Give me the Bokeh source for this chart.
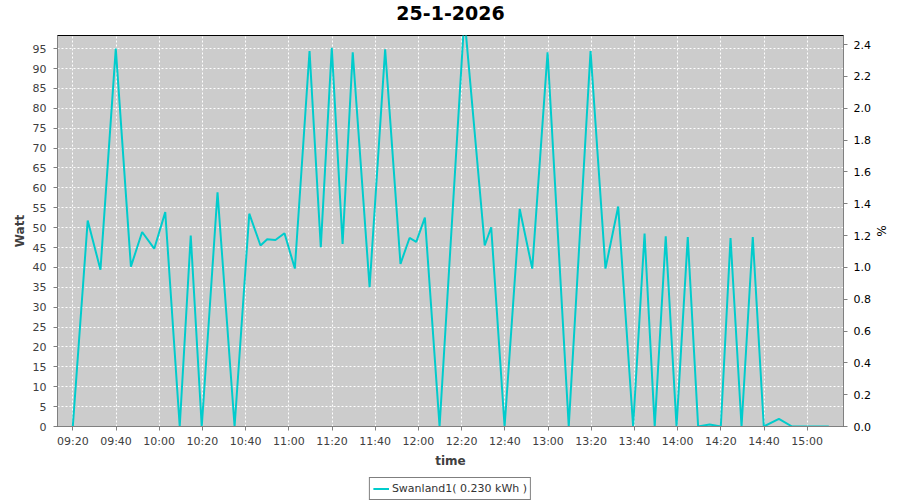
import pandas as pd
from bokeh.plotting import figure
from bokeh.layouts import column
from bokeh.models import (Range1d, LinearAxis, FixedTicker, DatetimeTickFormatter, Label,
                          Legend, LegendItem, ColumnDataSource, PrintfTickFormatter)
from bokeh.embed import file_html
from bokeh.resources import INLINE

DAY = "2026-01-25 "
TITLE = "25-1-2026"
SERIES_NAME = "Swanland1( 0.230 kWh )"
LINE_COLOR = "#00CCCC"

times = ["09:20:00", "09:26:54", "09:32:48", "09:39:54", "09:46:54", "09:52:06", "09:57:42",
         "10:02:48", "10:09:30", "10:14:36", "10:19:42", "10:27:00", "10:34:54", "10:41:42",
         "10:46:54", "10:50:00", "10:53:48", "10:58:00", "11:02:48", "11:09:36", "11:14:48",
         "11:19:54", "11:24:54", "11:29:36", "11:37:24", "11:44:36", "11:51:42", "11:55:54",
         "11:59:00", "12:03:00", "12:09:48", "12:21:18", "12:30:42", "12:33:42", "12:39:54",
         "12:46:54", "12:52:42", "12:59:48", "13:09:36", "13:19:42", "13:26:36", "13:32:30",
         "13:39:24", "13:44:42", "13:49:24", "13:54:30", "13:59:30", "14:04:42", "14:09:30",
         "14:14:48", "14:20:00", "14:24:30", "14:29:36", "14:34:48", "14:39:54", "14:46:54",
         "14:53:00", "15:10:00"]
watt = [0, 51.8, 39.4, 95.0, 40.2, 48.9, 44.7,
        53.9, 0, 48.0, 0, 58.9, 0, 53.5,
        45.5, 47.1, 46.9, 48.6, 39.7, 94.4, 45.1,
        95.2, 45.9, 94.1, 35.0, 94.8, 40.9, 47.4,
        46.4, 52.5, 0, 103.0, 45.5, 50.1, 0,
        54.7, 39.7, 94.1, 0, 94.4, 39.7, 55.3,
        0, 48.5, 0, 47.8, 0, 47.6, 0,
        0.5, 0, 47.4, 0, 47.6, 0, 1.9,
        0, 0]

x_tick_labels = ["09:20", "09:40", "10:00", "10:20", "10:40", "11:00", "11:20", "11:40",
                 "12:00", "12:20", "12:40", "13:00", "13:20", "13:40", "14:00", "14:20",
                 "14:40", "15:00"]
watt_ticks = [0, 5, 10, 15, 20, 25, 30, 35, 40, 45, 50, 55, 60, 65, 70, 75, 80, 85, 90, 95]
pct_ticks = [0.0, 0.2, 0.4, 0.6, 0.8, 1.0, 1.2, 1.4, 1.6, 1.8, 2.0, 2.2, 2.4]

WATT_MAX = 98.3
PCT_MAX = 2.4575


def ts(s):
    return pd.Timestamp(DAY + s)


# ---------- title strip ----------
t_fig = figure(width=900, height=35, x_axis_type=None, y_axis_type=None,
               x_range=Range1d(0, 1), y_range=Range1d(0, 1), min_border=0,
               output_backend="svg", toolbar_location=None)
t_fig.outline_line_color = None
t_fig.background_fill_color = "white"
t_fig.border_fill_color = "white"
t_fig.add_layout(Label(x=0.5, y=0.63, text=TITLE, text_align="center", text_baseline="middle",
                       text_font="DejaVu Sans", text_font_size="19px", text_font_style="bold",
                       text_color="black"))

# ---------- main chart ----------
src = ColumnDataSource(dict(t=pd.to_datetime([DAY + s for s in times]), w=watt))

p = figure(width=900, height=442, frame_width=786, frame_height=391,
           x_axis_type="datetime", output_backend="svg", toolbar_location=None,
           x_range=Range1d(ts("09:12:55"), ts("15:16:48")),
           y_range=Range1d(0, WATT_MAX),
           min_border_left=57, min_border_right=57, min_border_top=0, min_border_bottom=51)
p.extra_y_ranges = {"pct": Range1d(0, PCT_MAX)}

p.background_fill_color = "#CCCCCC"
p.border_fill_color = "white"
p.outline_line_color = "black"
p.outline_line_width = 1

tick_ms = [ts(s + ":00").value / 1e6 for s in x_tick_labels]
xa = p.xaxis[0]
xa.ticker = FixedTicker(ticks=tick_ms)
fmt = "%H:%M"
xa.formatter = DatetimeTickFormatter(seconds=fmt, minsec=fmt, minutes=fmt, hourmin=fmt, hours=fmt)
xa.axis_label = "time"

ya = p.yaxis[0]
ya.ticker = FixedTicker(ticks=watt_ticks)
ya.axis_label = "Watt"

ra = LinearAxis(y_range_name="pct", axis_label="%")
ra.ticker = FixedTicker(ticks=pct_ticks)
ra.formatter = PrintfTickFormatter(format="%.1f")
p.add_layout(ra, "right")

for ax, col in ((xa, "#404040"), (ya, "#404040"), (ra, "black")):
    ax.axis_line_color = "#808080"
    ax.major_tick_line_color = "#808080"
    ax.minor_tick_line_color = None
    ax.major_tick_in = 0
    ax.major_tick_out = 4
    ax.major_label_text_font = "DejaVu Sans"
    ax.major_label_text_font_size = "11px"
    ax.major_label_text_color = col
    ax.axis_label_text_font = "DejaVu Sans"
    ax.axis_label_text_font_size = "12px"
    ax.axis_label_text_font_style = "bold"
    ax.axis_label_text_color = col
ra.axis_label_text_font_style = "normal"
xa.major_label_standoff = 4
xa.axis_label_standoff = 3
ya.major_label_standoff = 7
ya.axis_label_standoff = 3
ra.major_label_standoff = 6
ra.axis_label_standoff = 0

p.xgrid.ticker = FixedTicker(ticks=tick_ms)
p.ygrid.ticker = FixedTicker(ticks=watt_ticks)
for g in (p.xgrid, p.ygrid):
    g.grid_line_color = "white"
    g.grid_line_dash = "2 2"
    g.grid_line_width = 1

p.line(x="t", y="w", source=src, line_color=LINE_COLOR, line_width=2)

# ---------- legend strip (same series, drawn out of this strip's view; only its legend shows) ----------
l_fig = figure(width=900, height=23, x_axis_type=None, y_axis_type=None,
               x_range=Range1d(0, 1), y_range=Range1d(0, 1), min_border=0,
               output_backend="svg", toolbar_location=None)
l_fig.outline_line_color = None
l_fig.background_fill_color = "white"
l_fig.border_fill_color = "white"
lr = l_fig.line(x="t", y="w", source=src, line_color=LINE_COLOR, line_width=2)
legend = Legend(items=[LegendItem(label=SERIES_NAME, renderers=[lr])], location="top_center",
                orientation="horizontal", padding=3, margin=0, spacing=0,
                glyph_width=16, glyph_height=15, label_height=15, label_standoff=3,
                label_text_font="DejaVu Sans", label_text_font_size="11px",
                label_text_color="#333333", border_line_color="black",
                background_fill_color="white", background_fill_alpha=1.0)
l_fig.add_layout(legend, "center")

layout = column(t_fig, p, l_fig, spacing=0)

open("out.html", "w").write(file_html(layout, INLINE))
